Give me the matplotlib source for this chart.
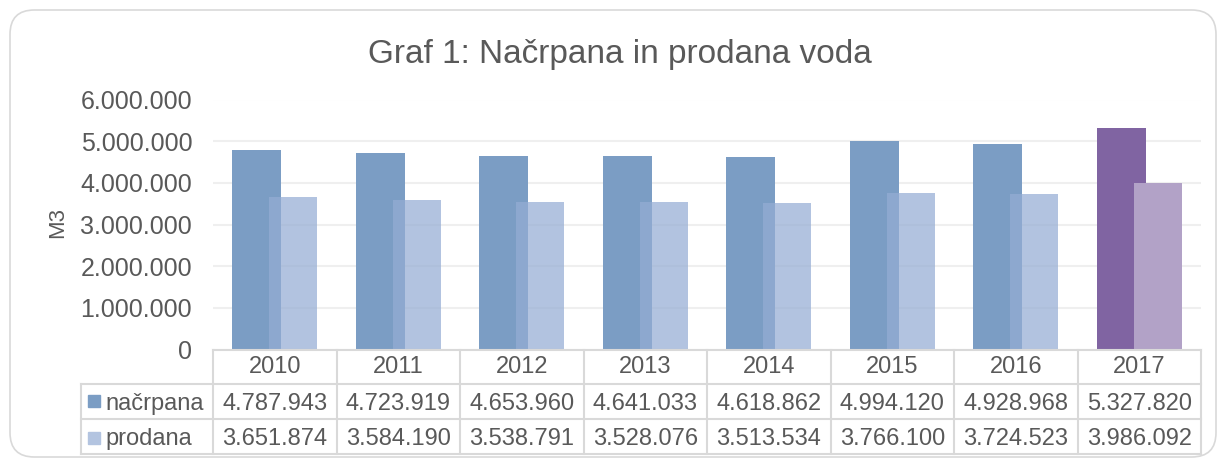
import matplotlib
matplotlib.use("Agg")
import matplotlib.pyplot as plt
from matplotlib.patches import FancyBboxPatch, Rectangle
from matplotlib.lines import Line2D
import numpy as np

plt.rcParams['font.family'] = ['Liberation Sans', 'DejaVu Sans']

years = ['2010', '2011', '2012', '2013', '2014', '2015', '2016', '2017']
nacrpana = [4787943, 4723919, 4653960, 4641033, 4618862, 4994120, 4928968, 5327820]
prodana = [3651874, 3584190, 3538791, 3528076, 3513534, 3766100, 3724523, 3986092]
series_names = ['načrpana', 'prodana']
title = 'Graf 1: Načrpana in prodana voda'
ylabel = 'M3'
yticks = [0, 1000000, 2000000, 3000000, 4000000, 5000000, 6000000]

W, H = 1218, 459
DPI = 100
FS_TICK = 18
FS_TAB = 17
TXT = '#595959'
GRID = '#efefef'
LINE = '#d9d9d9'
dark_blue = '#7B9DC4'
light_blue = '#95ADD4'
dark_purple = '#8064A2'
light_purple = '#B2A2C7'


def fmt(v):
    return f"{v:,}".replace(',', '.')


fig = plt.figure(figsize=(W / DPI, H / DPI), dpi=DPI)
fig.patch.set_facecolor('white')


def fx(px):
    return px / W


def fy(py):
    return 1 - py / H


# chart border
border = FancyBboxPatch((fx(10), fy(457)), fx(1216) - fx(10), fy(10) - fy(457),
                        boxstyle="round,pad=0,rounding_size=0.02",
                        transform=fig.transFigure, fill=False,
                        edgecolor='#d9d9d9', linewidth=1.2, mutation_aspect=W / H)
fig.patches.append(border)

ax_l, ax_r, ax_t, ax_b = 213, 1201, 99.5, 349.5
ax = fig.add_axes([fx(ax_l), fy(ax_b), fx(ax_r) - fx(ax_l), fy(ax_t) - fy(ax_b)])
n = len(years)
x = np.arange(n)
ax.set_xlim(-0.5, n - 0.5)
ax.set_ylim(0, 6000000)

dark_cols = [dark_blue] * (n - 1) + [dark_purple]
light_cols = [light_blue] * (n - 1) + [light_purple]
light_alpha = [0.72] * (n - 1) + [1.0]
for i in range(n):
    ax.bar(x[i] - 0.146, nacrpana[i], width=0.397, color=dark_cols[i], zorder=2)
    ax.bar(x[i] + 0.150, prodana[i], width=0.389, color=light_cols[i],
           alpha=light_alpha[i], zorder=3)

ax.set_yticks(yticks)
ax.set_yticklabels([fmt(v) for v in yticks], fontsize=FS_TICK, color=TXT)
ax.tick_params(axis='y', length=0, pad=15)
ax.set_xticks([])
for s in ax.spines.values():
    s.set_visible(False)
ax.grid(axis='y', color=GRID, linewidth=1.5, zorder=0)
ax.set_axisbelow(True)

fig.text(fx(57.5), fy(223), ylabel, rotation=90, ha='center', va='center',
         fontsize=16, color=TXT)

fig.text(fx(619.5), fy(63), title, ha='center', va='baseline', fontsize=24,
         color=TXT)

# data table
row_y = [350, 383.5, 419, 453.5]
base_y = [373, 410, 445]
cat_w = (ax_r - ax_l) / n
lw = 1.5
fig.add_artist(Line2D([fx(ax_l), fx(ax_r)], [fy(row_y[0])] * 2, color=LINE, lw=lw))
for yy in row_y[1:]:
    fig.add_artist(Line2D([fx(81), fx(ax_r)], [fy(yy)] * 2, color=LINE, lw=lw))
for i in range(n + 1):
    xx = ax_l + i * cat_w
    fig.add_artist(Line2D([fx(xx)] * 2, [fy(row_y[0]), fy(row_y[3])], color=LINE, lw=lw))
fig.add_artist(Line2D([fx(81)] * 2, [fy(row_y[1]), fy(row_y[3])], color=LINE, lw=lw))

for i in range(n):
    cx = ax_l + (i + 0.5) * cat_w
    fig.text(fx(cx), fy(base_y[0]), years[i], ha='center',
             va='baseline', fontsize=FS_TAB, color=TXT)
    fig.text(fx(cx), fy(base_y[1]), fmt(nacrpana[i]), ha='center',
             va='baseline', fontsize=FS_TAB, color=TXT)
    fig.text(fx(cx), fy(base_y[2]), fmt(prodana[i]), ha='center',
             va='baseline', fontsize=FS_TAB, color=TXT)

sq = [(395, 407), (432, 444)]
for r, (name, col) in enumerate(zip(series_names, [dark_blue, '#B3C4E0'])):
    y0, y1 = sq[r]
    fig.patches.append(Rectangle((fx(88), fy(y1)), fx(12), fy(y0) - fy(y1),
                                 transform=fig.transFigure, color=col))
    fig.text(fx(105), fy(base_y[r + 1]), name, ha='left', va='baseline',
             fontsize=FS_TAB, color=TXT)

fig.savefig('out.png', dpi=DPI)
